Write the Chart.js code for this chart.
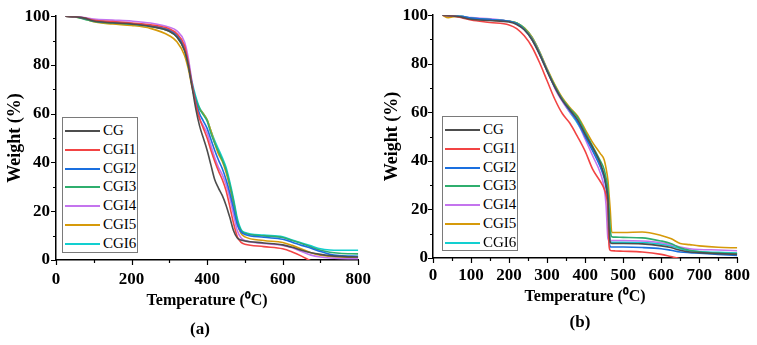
<!DOCTYPE html>
<html>
<head>
<meta charset="utf-8">
<script src="https://cdn.jsdelivr.net/npm/chart.js@4.4.1/dist/chart.umd.min.js"></script>
<style>
    body { margin: 0; background: #fff; }
    #wrap { position: relative; width: 757px; height: 345px; overflow: hidden; font-family: 'Liberation Serif', 'Times New Roman', serif; }
    canvas { position: absolute; top: 0; }
    .legend { position: absolute; border: 1px solid #7a7a7a; background: #fff; box-sizing: border-box; }
    .legend div { position: absolute; left: 0; height: 19px; line-height: 19px; font-size: 15px; color: #000; white-space: nowrap; }
    .legend span { position: absolute; top: 9px; height: 2px; }
    .legend b { position: absolute; font-weight: normal; }
    .caption { position: absolute; font-weight: bold; font-size: 17px; transform: translate(-50%, -50%); }
</style>
</head>
<body>
<div id="wrap">
    <canvas id="chartA" width="380" height="345" style="left:0"></canvas>
    <canvas id="chartB" width="377" height="345" style="left:380px"></canvas>
    <div class="legend" id="legendA" style="left:62px; top:117px; width:76px; height:136px"></div>
    <div class="legend" id="legendB" style="left:442px; top:116px; width:76px; height:135px"></div>
    <div class="caption" style="left:200px; top:329px">(a)</div>
    <div class="caption" style="left:580px; top:322px">(b)</div>
</div>
<script>
const seriesNames = ['CG', 'CGI1', 'CGI2', 'CGI3', 'CGI4', 'CGI5', 'CGI6'];
const seriesColors = ['#4d4d4d', '#f24444', '#1a6fdf', '#2fae6e', '#c474ee', '#d69a0a', '#12cfd0'];

// panel (a)
const tempA = [25, 50, 75, 100, 150, 200, 250, 300, 320, 340, 350, 360, 370, 380, 390, 400, 410, 420, 430, 440, 450, 460, 470, 480, 490, 500, 550, 600, 625, 650, 675, 700, 725, 750, 800];
const cgA   = [100, 99.8, 99.2, 98.0, 97.3, 96.8, 95.8, 93.8, 91.5, 86, 80, 71, 62, 55, 50, 45, 39, 33, 29.5, 26.5, 22.5, 17.5, 12, 9, 8.2, 7.8, 7.0, 6.2, 5.2, 4, 3, 2.3, 1.8, 1.5, 1.2];
const cgi1A = [100, 99.8, 99.3, 98.3, 97.8, 97.2, 96.5, 94.8, 92.8, 88, 81, 72, 64, 58, 54, 50, 45, 40.5, 36.5, 33, 28.5, 22, 15, 9.5, 7.2, 6.5, 5.5, 4.6, 3.3, 1.6, -0.4, -2, -3, -4, -5];
const cgi2A = [100, 99.8, 99.2, 98.2, 97.5, 97, 96.2, 94.3, 92.3, 87, 80.5, 72, 65, 60, 57, 54, 49.5, 45, 41, 37.5, 33, 27.5, 21, 14.5, 11.5, 10.5, 9.3, 8.5, 7.3, 6, 4.8, 3.5, 2.3, 1.8, 1.5];
const cgi3A = [100, 99.7, 98.8, 97.8, 97.2, 96.7, 95.8, 93.8, 91.5, 86, 80, 72, 66, 62, 59.5, 57, 52, 48, 44.5, 41, 37, 31, 24, 16, 12, 11, 9.9, 9.2, 8, 6.8, 5.3, 4, 3.2, 2.8, 2.5];
const cgi4A = [100, 99.9, 99.5, 98.8, 98.4, 98.0, 97.2, 95.5, 94, 89.5, 83, 73, 64, 58, 55, 52, 47, 42, 38, 35, 31, 25.5, 18.5, 12, 9, 8, 6.8, 6, 5, 3.5, 2, 1.2, 0.8, 0.6, 0.5];
const cgi5A = [100, 99.7, 99.0, 97.7, 96.8, 96.2, 95, 92, 89.5, 84, 78.5, 71, 65, 62, 60, 57.5, 53, 48, 43.5, 40.5, 36, 30, 22.5, 15, 10.8, 9.5, 8, 7.2, 6, 4.5, 3, 2, 1.5, 1.2, 1.0];
const cgi6A = [100, 99.8, 99.0, 98, 97.3, 96.8, 96, 94.2, 92.2, 87, 81, 73, 67, 62.5, 60, 57.5, 53, 49, 45.5, 42, 38, 32, 25, 17, 12.5, 11.3, 10.2, 9.5, 8.2, 7, 5.8, 4.6, 4.1, 4, 4];

// panel (b)
const tempB = [25, 40, 60, 75, 100, 150, 200, 220, 240, 260, 280, 300, 320, 340, 360, 380, 400, 420, 440, 450, 455, 460, 463, 466, 470, 480, 500, 550, 600, 625, 650, 675, 700, 750, 800];
const cgB   = [100, 99.8, 99.5, 99.2, 98.3, 97.8, 97.2, 96.2, 94, 90, 84, 77, 70.5, 65, 61, 57, 51, 45.5, 39, 34, 30, 24, 12, 6.5, 6, 6, 6, 5.8, 5, 4.3, 3.2, 2.5, 2.2, 1.8, 1.5];
const cgi1B = [100, 99.8, 99.5, 99, 98, 97, 96, 94.5, 91.5, 87, 80.5, 73, 65.5, 59.5, 55.5, 50, 44, 36.5, 31.5, 28.5, 26, 20, 5, 3.2, 3.0, 2.9, 2.8, 2.5, 1.5, 0.6, -0.3, -1, -2, -3, -4];
const cgi2B = [100, 99.9, 99.7, 99.5, 98.8, 98.2, 97.5, 96.5, 94, 90, 84, 77, 70.5, 65, 60.5, 56, 50, 44, 37.5, 33, 29, 22, 8, 4.7, 4.5, 4.5, 4.5, 4.3, 3.8, 3.2, 2.5, 2.2, 2, 1.5, 1];
const cgi3B = [100, 99.9, 99.7, 99.5, 98.8, 98.2, 97.5, 96.8, 94.5, 90.5, 84.5, 77.5, 71, 65.5, 61.5, 58, 52, 46, 40, 36.5, 33, 28, 20, 12, 8.8, 8.6, 8.5, 8.3, 7, 6, 4.2, 3.2, 2.6, 2.0, 1.8];
const cgi4B = [100, 99.9, 99.7, 99.5, 99, 98.5, 97.5, 96.6, 94.3, 90.5, 84.5, 77.5, 70, 64.5, 60, 56, 49, 42, 35, 29, 22, 8, 7.2, 7.2, 7.2, 7.2, 7.2, 7.0, 6.3, 5.5, 4.5, 3.8, 3.5, 3.3, 3.0];
const cgi5B = [100, 99, 99.5, 99.3, 98.5, 98, 97.5, 96.8, 94.8, 91, 85, 78, 71.5, 66, 62, 58.5, 53, 47.5, 43, 40.5, 37, 32, 26, 20, 10.5, 10.5, 10.5, 10.7, 9.3, 8, 6, 5.5, 5, 4.4, 4.2];
const cgi6B = [100, 99.9, 99.8, 99.5, 98.8, 98.2, 97.5, 96.8, 94.8, 91, 85, 77.5, 71, 65, 60, 55.5, 50, 44.5, 38, 34, 30, 25, 15, 7, 6.5, 6.5, 6.5, 6.4, 5.7, 5, 3.8, 3, 2.7, 2.3, 2.0];

const yTicks = [0, 20, 40, 60, 80, 100];
const xTicksA = [0, 200, 400, 600, 800];
const xTicksB = [0, 100, 200, 300, 400, 500, 600, 700, 800];

const FONT = "'Liberation Serif', 'Times New Roman', serif";

// outward major/minor tick marks
const tickMarks = {
    id: 'tickMarks',
    afterDraw(chart) {
        const ctx = chart.ctx;
        const xs = chart.scales.x, ys = chart.scales.y;
        const area = chart.chartArea;
        ctx.save();
        ctx.strokeStyle = '#000';
        ctx.lineWidth = 1.2;
        ctx.beginPath();
        xs.ticks.forEach(t => {
            const px = Math.round(xs.getPixelForValue(t.value)) + 0.5;
            const len = t.label === '' ? 3 : 5;
            ctx.moveTo(px, area.bottom);
            ctx.lineTo(px, area.bottom + len);
        });
        ys.ticks.forEach(t => {
            const py = Math.round(ys.getPixelForValue(t.value)) + 0.5;
            const len = t.label === '' ? 3 : 5;
            ctx.moveTo(area.left, py);
            ctx.lineTo(area.left - len, py);
        });
        ctx.stroke();
        ctx.restore();
    }
};

function makeDatasets(temps, series) {
    return series.map((vals, i) => ({
        label: seriesNames[i],
        data: vals.map((v, j) => ({ x: temps[j], y: v })),
        borderColor: seriesColors[i],
        backgroundColor: seriesColors[i],
        borderWidth: 1.6,
        pointRadius: 0,
        cubicInterpolationMode: 'monotone'
    }));
}

function makeChart(id, temps, series, opt) {
    return new Chart(document.getElementById(id), {
        type: 'line',
        data: { datasets: makeDatasets(temps, series) },
        plugins: [tickMarks],
        options: {
            responsive: false,
            animation: false,
            layout: { padding: opt.padding },
            plugins: { legend: { display: false }, tooltip: { enabled: false } },
            scales: {
                x: {
                    type: 'linear', min: 0, max: 800,
                    afterFit: s => { s.height = opt.xHeight; },
                    grid: { display: false, drawTicks: false },
                    border: { display: true, color: '#000', width: 1.5 },
                    ticks: {
                        stepSize: opt.xStep, autoSkip: false, maxRotation: 0, padding: opt.xPad, color: '#000',
                        font: { family: FONT, size: 17, weight: 'bold' },
                        callback: v => opt.xLabels.includes(v) ? String(v) : ''
                    },
                    title: {
                        display: true, text: 'Temperature (\u2070C)', color: '#000', padding: 0,
                        font: { family: FONT, size: 16, weight: 'bold' }
                    }
                },
                y: {
                    min: 0, max: 100,
                    afterFit: s => { s.width = opt.yWidth; },
                    grid: { display: false, drawTicks: false },
                    border: { display: true, color: '#000', width: 1.5 },
                    ticks: {
                        stepSize: 10, autoSkip: false, padding: opt.yPad, color: '#000',
                        font: { family: FONT, size: 17, weight: 'bold' },
                        callback: v => yTicks.includes(v) ? String(v) : ''
                    },
                    title: {
                        display: true, text: 'Weight (%)', color: '#000', padding: { top: opt.yTitlePad, bottom: 0 },
                        font: { family: FONT, size: 18, weight: 'bold' }
                    }
                }
            }
        }
    });
}

function buildLegend(id) {
    const box = document.getElementById(id);
    seriesNames.forEach((name, i) => {
        const row = document.createElement('div');
        row.style.top = (3 + i * 18.8) + 'px';
        row.style.width = '100%';
        const line = document.createElement('span');
        line.style.left = '2px';
        line.style.width = '35px';
        line.style.background = seriesColors[i];
        const txt = document.createElement('b');
        txt.style.left = '40px';
        txt.textContent = name;
        row.appendChild(line);
        row.appendChild(txt);
        box.appendChild(row);
    });
}

makeChart('chartA', tempA, [cgA, cgi1A, cgi2A, cgi3A, cgi4A, cgi5A, cgi6A], {
    padding: { left: 0, top: 11, right: 17, bottom: 35 },
    xHeight: 50, yWidth: 56, xStep: 100, xLabels: xTicksA, xPad: 9, yPad: 6, yTitlePad: 5
});
makeChart('chartB', tempB, [cgB, cgi1B, cgi2B, cgi3B, cgi4B, cgi5B, cgi6B], {
    padding: { left: 0, top: 11, right: 15, bottom: 39 },
    xHeight: 48, yWidth: 53, xStep: 50, xLabels: xTicksB, xPad: 7, yPad: 5, yTitlePad: 2
});
buildLegend('legendA');
buildLegend('legendB');
</script>
</body>
</html>
